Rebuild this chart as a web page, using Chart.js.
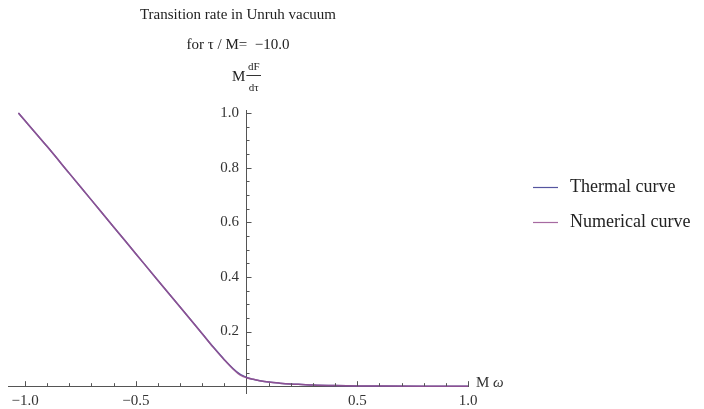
<!DOCTYPE html>
<html>
<head>
<meta charset="utf-8">
<script src="https://cdn.jsdelivr.net/npm/chart.js@4"></script>
<style>
  html, body { margin: 0; padding: 0; background: #fff; }
</style>
</head>
<body>
<canvas id="myChart" width="704" height="409"></canvas>
<script>
// values
const omega     = [-1.03, -0.9, -0.8, -0.7, -0.6, -0.5, -0.4, -0.3, -0.2, -0.15, -0.1, -0.06, -0.03, -0.01, 0, 0.03, 0.06, 0.1, 0.15, 0.2, 0.25, 0.3, 0.4, 0.5, 0.6, 0.8, 1.0];
const thermal   = [1.0, 0.877, 0.779, 0.681, 0.583, 0.485, 0.387, 0.290, 0.192, 0.143, 0.097, 0.064, 0.044, 0.036, 0.032, 0.025, 0.020, 0.015, 0.011, 0.008, 0.006, 0.004, 0.002, 0.001, 0.0005, 0.0001, 0];
const numerical = [1.0, 0.877, 0.779, 0.681, 0.583, 0.485, 0.387, 0.290, 0.192, 0.142, 0.096, 0.062, 0.041, 0.034, 0.031, 0.025, 0.020, 0.015, 0.011, 0.008, 0.006, 0.004, 0.002, 0.001, 0.0005, 0.0001, 0];
const seriesNames = ['Thermal curve', 'Numerical curve'];
const seriesColors = ['#55559f', 'rgba(150,80,145,0.85)'];
const xTicks = [-1.0, -0.5, 0.5, 1.0];
const yTicks = [0.2, 0.4, 0.6, 0.8, 1.0];
const titleLines = ['Transition rate in Unruh vacuum', 'for \u03C4 / M=  \u221210.0'];

const serif = '"Liberation Serif", "Times New Roman", serif';
const axisColor = '#555';
const labelColor = '#333';

const fmt = v => (v < 0 ? '\u2212' : '') + Math.abs(v).toFixed(1);

// minor ticks, tick marks inside the plot, axis labels and legend
const decor = {
  id: 'decor',
  afterDraw(chart) {
    const c = chart.ctx;
    const xs = chart.scales.x, ys = chart.scales.y;
    const x0 = xs.getPixelForValue(0), y0 = ys.getPixelForValue(0);
    const area = chart.chartArea;
    c.save();
    c.strokeStyle = axisColor;
    c.lineWidth = 1;
    c.beginPath();
    for (let i = -10; i <= 10; i++) {
      if (i === 0) continue;
      const v = i / 10;
      const len = (i % 5 === 0) ? 5 : 3;
      const px = Math.round(xs.getPixelForValue(v)) + 0.5;
      c.moveTo(px, y0);
      c.lineTo(px, y0 - len);
    }
    for (let i = 1; i <= 20; i++) {
      const v = i / 20;
      const len = (i % 4 === 0) ? 5 : 3;
      const py = Math.round(ys.getPixelForValue(v)) + 0.5;
      c.moveTo(x0, py);
      c.lineTo(x0 + len, py);
    }
    c.stroke();

    // x axis label
    c.fillStyle = labelColor;
    c.textBaseline = 'middle';
    c.textAlign = 'left';
    c.font = '15px ' + serif;
    const lx = area.right + 8;
    c.fillText('M ', lx, y0 - 3);
    const mw = c.measureText('M ').width;
    c.font = 'italic 15px ' + serif;
    c.fillText('\u03C9', lx + mw, y0 - 3);

    // y axis label  M dF/dτ
    c.font = '15px ' + serif;
    const wM = c.measureText('M').width;
    c.font = '11px ' + serif;
    const fw = Math.max(c.measureText('dF').width, c.measureText('d\u03C4').width) + 3;
    const total = wM + 1 + fw;
    const sx = x0 - total / 2;
    const top = area.top;
    c.font = '15px ' + serif;
    c.fillStyle = '#222';
    c.fillText('M', sx, top - 33);
    c.font = '11px ' + serif;
    c.textAlign = 'center';
    const fc = sx + wM + 1 + fw / 2;
    c.fillText('dF', fc, top - 43);
    c.fillText('d\u03C4', fc, top - 22);
    c.beginPath();
    c.strokeStyle = '#333';
    c.moveTo(sx + wM + 1, top - 34.5);
    c.lineTo(sx + wM + 1 + fw, top - 34.5);
    c.stroke();

    // legend
    c.textAlign = 'left';
    c.font = '18px ' + serif;
    chart.data.datasets.forEach((ds, i) => {
      const ly = 187 + i * 35;
      c.strokeStyle = ds.borderColor;
      c.lineWidth = 1.2;
      c.beginPath();
      c.moveTo(533, ly + 0.5);
      c.lineTo(558, ly + 0.5);
      c.stroke();
      c.fillStyle = '#222';
      c.fillText(ds.label, 570, ly);
    });
    c.restore();
  }
};

const ctx = document.getElementById('myChart').getContext('2d');
const myChart = new Chart(ctx, {
  type: 'line',
  data: {
    datasets: [
      {
        label: seriesNames[0],
        data: omega.map((x, i) => ({ x: x, y: thermal[i] })),
        borderColor: seriesColors[0],
        borderWidth: 1.5,
        pointRadius: 0,
        order: 1,
        cubicInterpolationMode: 'monotone'
      },
      {
        label: seriesNames[1],
        data: omega.map((x, i) => ({ x: x, y: numerical[i] })),
        borderColor: seriesColors[1],
        borderWidth: 1.5,
        pointRadius: 0,
        order: 0,
        cubicInterpolationMode: 'monotone'
      }
    ]
  },
  options: {
    responsive: false,
    animation: false,
    devicePixelRatio: 1,
    layout: { padding: { left: 8, right: 236, top: 0, bottom: 16 } },
    plugins: {
      legend: { display: false },
      tooltip: { enabled: false },
      title: {
        display: true,
        text: titleLines,
        fullSize: false,
        color: '#222',
        font: { family: serif, size: 15, weight: 'normal', lineHeight: 2 },
        padding: { top: 0, bottom: 50 }
      }
    },
    scales: {
      x: {
        type: 'linear',
        min: -1.077,
        max: 1.0,
        position: { y: 0 },
        grid: { display: false, drawTicks: false },
        border: { color: axisColor, width: 1 },
        afterBuildTicks: s => { s.ticks = xTicks.map(v => ({ value: v })); },
        ticks: {
          callback: fmt,
          color: labelColor,
          font: { family: serif, size: 15 },
          padding: 6,
          maxRotation: 0,
          autoSkip: false
        }
      },
      y: {
        type: 'linear',
        min: -0.025,
        max: 1.011,
        position: { x: 0 },
        grid: { display: false, drawTicks: false },
        border: { color: axisColor, width: 1 },
        afterBuildTicks: s => { s.ticks = yTicks.map(v => ({ value: v })); },
        ticks: {
          callback: v => fmt(v) + '  ',
          color: labelColor,
          font: { family: serif, size: 15 },
          padding: 5,
          autoSkip: false
        }
      }
    }
  },
  plugins: [decor]
});
</script>
</body>
</html>
